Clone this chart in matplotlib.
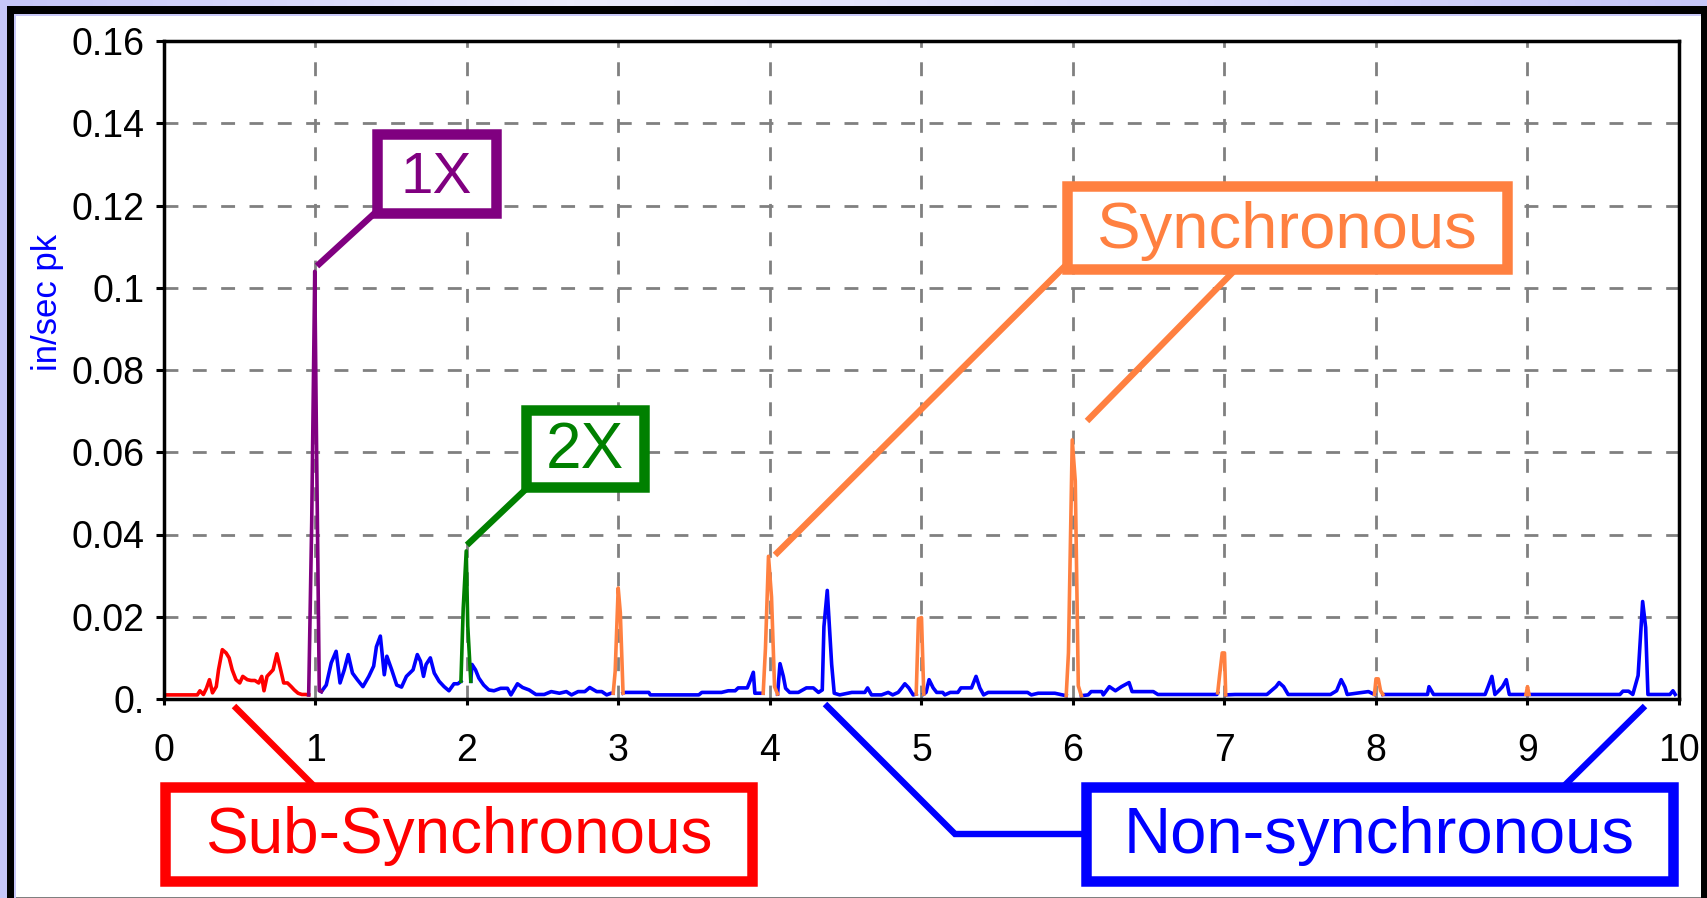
import numpy as np
import matplotlib.pyplot as plt
from matplotlib.patches import Rectangle
from matplotlib.lines import Line2D
from matplotlib.colors import LinearSegmentedColormap

plt.rcParams['font.family'] = ['Liberation Sans', 'DejaVu Sans']

nan = np.nan

# velocity spectrum (in/sec pk) against order of running speed, split by colour band
sub_orders = [0.0, 0.22, 0.237, 0.26, 0.28, 0.30, 0.32, 0.345, 0.36, 0.385, 0.41, 0.43,
              0.45, 0.475, 0.50, 0.52, 0.55, 0.575, 0.60, 0.625, 0.645, 0.66, 0.68, 0.70,
              0.72, 0.745, 0.77, 0.79, 0.815, 0.84, 0.86, 0.885, 0.91, 0.935, 0.955]
sub_amps = [0.001, 0.001, 0.002, 0.0011, 0.0026, 0.0047, 0.0015, 0.003, 0.0071, 0.012, 0.0112, 0.010,
            0.0071, 0.0047, 0.0039, 0.0055, 0.0047, 0.0045, 0.0045, 0.0039, 0.0055, 0.002, 0.0055, 0.0063,
            0.0071, 0.011, 0.0071, 0.0039, 0.0039, 0.003, 0.0022, 0.0014, 0.0011, 0.0011, 0.001]

one_x_orders = [0.955, 0.975, 0.995, 1.005, 1.025, 1.039]
one_x_amps = [0.001, 0.043, 0.104, 0.068, 0.002, 0.0018]

two_x_orders = [1.96, 1.975, 1.995, 2.005, 2.025]
two_x_amps = [0.0043, 0.022, 0.036, 0.0178, 0.0043]

sync_orders = [2.965, 2.978, 2.998, 3.012, 3.03, nan,
               3.955, 3.97, 3.99, 4.01, 4.03, 4.05, nan,
               4.965, 4.98, 5.0, 5.015, nan,
               5.955, 5.97, 5.995, 6.015, 6.035, 6.055, nan,
               6.955, 6.968, 6.985, 7.0, 7.008, nan,
               7.99, 8.0, 8.015, 8.03, 8.045, nan,
               8.99, 9.0, 9.01]
sync_amps = [0.0014, 0.0067, 0.027, 0.021, 0.0014, nan,
             0.0014, 0.0123, 0.0347, 0.0248, 0.003, 0.0012, nan,
             0.0012, 0.0195, 0.0198, 0.0012, nan,
             0.0008, 0.0112, 0.063, 0.053, 0.0032, 0.0008, nan,
             0.0015, 0.0059, 0.0112, 0.0112, 0.001, nan,
             0.0011, 0.0049, 0.0049, 0.002, 0.0011, nan,
             0.0011, 0.003, 0.0011]

nonsync_orders = [1.039, 1.071, 1.104, 1.136, 1.162, 1.19, 1.216, 1.244, 1.276, 1.313, 1.352,
                  1.384, 1.402, 1.428, 1.454, 1.471, 1.503, 1.536, 1.568, 1.60, 1.644, 1.672,
                  1.693, 1.713, 1.73, 1.758, 1.784, 1.816, 1.849, 1.881, 1.914, 1.94, 1.96, nan,
                  2.025, 2.033, 2.056, 2.078, 2.11, 2.144, 2.178, 2.222, 2.267, 2.29, 2.333,
                  2.367, 2.41, 2.455, 2.51, 2.556, 2.61, 2.656, 2.69, 2.733, 2.778, 2.81,
                  2.856, 2.89, 2.922, 2.95, 2.965, nan,
                  3.03, 3.044, 3.2, 3.21, 3.37, 3.44, 3.53, 3.55, 3.6, 3.68, 3.725, 3.77,
                  3.79, 3.85, 3.87, 3.89, 3.90, 3.92, 3.955, nan,
                  4.05, 4.066, 4.088, 4.103, 4.13, 4.187, 4.24, 4.286, 4.32, 4.345, 4.356,
                  4.378, 4.407, 4.424, 4.46, 4.54, 4.626, 4.644, 4.67, 4.736, 4.78, 4.81,
                  4.846, 4.87, 4.89, 4.916, 4.945, 4.965, nan,
                  5.015, 5.03, 5.05, 5.077, 5.1, 5.14, 5.154, 5.19, 5.24, 5.26, 5.33, 5.36,
                  5.385, 5.41, 5.44, 5.57, 5.70, 5.725, 5.77, 5.88, 5.955, nan,
                  6.055, 6.1, 6.12, 6.19, 6.2, 6.24, 6.28, 6.32, 6.37, 6.39, 6.44, 6.53,
                  6.56, 6.95, 6.955, nan,
                  7.008, 7.07, 7.28, 7.34, 7.36, 7.39, 7.42, 7.70, 7.74, 7.77, 7.795, 7.81,
                  7.95, 7.99, nan,
                  8.045, 8.22, 8.34, 8.35, 8.38, 8.72, 8.74, 8.765, 8.785, 8.81, 8.835, 8.86,
                  8.88, 8.99, nan,
                  9.01, 9.61, 9.63, 9.667, 9.695, 9.73, 9.76, 9.78, 9.795, 9.94, 9.96, 9.975]
nonsync_amps = [0.0018, 0.0034, 0.0088, 0.0116, 0.0039, 0.0071, 0.0108, 0.0063, 0.0047, 0.003, 0.0055,
                0.008, 0.0127, 0.0153, 0.0059, 0.0104, 0.0071, 0.0034, 0.0029, 0.0055, 0.0071, 0.0108,
                0.0092, 0.0055, 0.0084, 0.01, 0.0063, 0.0043, 0.003, 0.002, 0.0037, 0.0037, 0.0043, nan,
                0.0043, 0.0084, 0.0071, 0.0051, 0.0034, 0.0022, 0.002, 0.0026, 0.0026, 0.001, 0.0037,
                0.0028, 0.0022, 0.0011, 0.0011, 0.0018, 0.0014, 0.0018, 0.001, 0.0018, 0.0018, 0.0028,
                0.0018, 0.0018, 0.001, 0.0014, 0.0014, nan,
                0.0014, 0.0016, 0.0016, 0.001, 0.001, 0.001, 0.001, 0.0016, 0.0016, 0.0016, 0.002, 0.002,
                0.0027, 0.0027, 0.0045, 0.0065, 0.0014, 0.0014, 0.0014, nan,
                0.0012, 0.0086, 0.0055, 0.0026, 0.0016, 0.0016, 0.0027, 0.0027, 0.0016, 0.0022, 0.0176,
                0.0264, 0.0084, 0.0014, 0.001, 0.0016, 0.0016, 0.0027, 0.001, 0.001, 0.0016, 0.001,
                0.0016, 0.0027, 0.0037, 0.0027, 0.001, 0.0012, nan,
                0.0012, 0.0016, 0.0047, 0.0027, 0.0016, 0.0016, 0.001, 0.0016, 0.0016, 0.0027, 0.0027, 0.0055,
                0.0027, 0.001, 0.0016, 0.0016, 0.0016, 0.001, 0.0014, 0.0014, 0.0008, nan,
                0.0008, 0.001, 0.0018, 0.0018, 0.001, 0.003, 0.002, 0.003, 0.004, 0.0018, 0.0018, 0.0018,
                0.0011, 0.0011, 0.0015, nan,
                0.001, 0.0011, 0.0011, 0.003, 0.004, 0.003, 0.0011, 0.0011, 0.002, 0.0047, 0.0029, 0.0011,
                0.0018, 0.0011, nan,
                0.0011, 0.0011, 0.0011, 0.003, 0.0011, 0.0011, 0.003, 0.0055, 0.0011, 0.002, 0.003, 0.0047,
                0.0011, 0.0011, nan,
                0.0011, 0.0011, 0.0019, 0.0019, 0.0011, 0.0057, 0.0237, 0.0174, 0.0011, 0.0011, 0.002, 0.0011]

x_ticks = list(range(11))
x_tick_labels = [str(v) for v in x_ticks]
y_ticks = [0, 0.02, 0.04, 0.06, 0.08, 0.10, 0.12, 0.14, 0.16]
y_tick_labels = ['0.', '0.02', '0.04', '0.06', '0.08', '0.1', '0.12', '0.14', '0.16']

RED, PURPLE, BLUE, GREEN, ORANGE = '#ff0000', '#800080', '#0000ff', '#008000', '#ff8040'

W, H = 1708, 898
fig = plt.figure(figsize=(W / 100, H / 100), dpi=100)

# lavender window background with a black frame and white page
bg = fig.add_axes([0, 0, 1, 1], zorder=-10)
lav = LinearSegmentedColormap.from_list('lav', ['#c6c6f8', '#ececfc', '#dcdcfa', '#c6c6f8'])
bg.imshow(np.linspace(0, 1, 512)[None, :], cmap=lav, aspect='auto', extent=[0, 1, 0, 1])
bg.set_axis_off()


def frame_rect(x0, y0, x1, y1, color):
    fig.add_artist(Rectangle((x0 / W, 1 - y1 / H), (x1 - x0) / W, (y1 - y0) / H,
                             transform=fig.transFigure, fc=color, ec='none', zorder=-5))


frame_rect(7, 6, 1708, 898, 'black')
frame_rect(14, 14, 1701, 898, '#c8c8f8')
frame_rect(16, 16, 1701, 897, 'white')
frame_rect(16, 897, 1701, 898, '#808080')

ax = fig.add_axes([164 / W, 1 - 699 / H, (1679 - 164) / W, (699 - 41) / H])
ax.set_xlim(0, 10)
ax.set_ylim(0, 0.16)
ax.set_xticks(x_ticks)
ax.set_xticklabels(x_tick_labels)
ax.set_yticks(y_ticks)
ax.set_yticklabels(y_tick_labels)
ax.grid(True, color='#808080', lw=2, linestyle=(0, (5, 5.2)))
ax.set_axisbelow(True)
for s in ax.spines.values():
    s.set_linewidth(2.5)
ax.tick_params(axis='both', colors='black', labelsize=27, width=2.2)
ax.tick_params(axis='y', length=6, pad=8)
ax.tick_params(axis='x', length=4.5, pad=20)

lw = 2.6
ax.plot(sub_orders, sub_amps, color=RED, lw=lw)
ax.plot(nonsync_orders, nonsync_amps, color=BLUE, lw=lw)
ax.plot(sync_orders, sync_amps, color=ORANGE, lw=lw)
ax.plot(two_x_orders, two_x_amps, color=GREEN, lw=lw)
ax.plot(one_x_orders, one_x_amps, color=PURPLE, lw=lw)

fig.text(48 / W, 1 - 302 / H, 'in/sec pk', rotation=90, color=BLUE, fontsize=25,
         ha='center', va='center')


def leader(points, color):
    xs = [p[0] / W for p in points]
    ys = [1 - p[1] / H for p in points]
    fig.add_artist(Line2D(xs, ys, transform=fig.transFigure, color=color, lw=4.6,
                          solid_capstyle='butt', solid_joinstyle='miter', zorder=5))


def callout(text, box, baseline, color, size):
    x0, y0, x1, y1 = box
    edge = 10.5
    fig.add_artist(Rectangle(((x0 + edge / 2) / W, 1 - (y1 - edge / 2) / H),
                             (x1 - x0 - edge) / W, (y1 - y0 - edge) / H,
                             transform=fig.transFigure, fc='white', ec=color,
                             lw=edge * 0.72, joinstyle='miter', zorder=6))
    fig.text((x0 + x1) / 2 / W, 1 - baseline / H, text, color=color, fontsize=size,
             ha='center', va='baseline', zorder=7)


leader([(317, 266), (377, 211)], PURPLE)
leader([(467, 545), (526, 489)], GREEN)
leader([(775, 555), (1068, 263)], ORANGE)
leader([(1087, 421), (1234, 271)], ORANGE)
leader([(234, 706), (314, 786)], RED)
leader([(825, 704), (955, 834), (1084, 834)], BLUE)
leader([(1645, 706), (1564, 786)], BLUE)

callout('1X', (372, 129, 501, 218), 193, PURPLE, 42)
callout('2X', (521, 405, 649, 492), 468, GREEN, 46)
callout('Synchronous', (1062, 181, 1512, 274), 248, ORANGE, 47)
callout('Sub-Synchronous', (160, 782, 757, 886), 853, RED, 46)
callout('Non-synchronous', (1081, 782, 1678, 886), 853, BLUE, 47)

fig.savefig('out.png', dpi=100)
